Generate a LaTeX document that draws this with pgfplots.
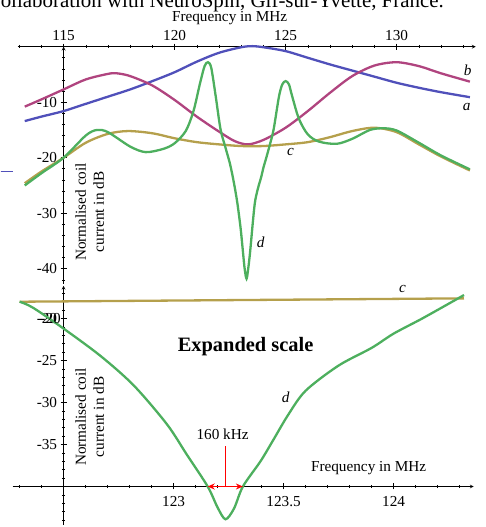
\documentclass[border=0pt]{standalone}
\usepackage{fontspec}
\setmainfont{Liberation Serif}
\usepackage{pgfplots}
\pgfplotsset{compat=1.18}
\usetikzlibrary{arrows.meta}
\definecolor{cA}{HTML}{5050BA}
\definecolor{cB}{HTML}{B0447F}
\definecolor{cC}{HTML}{B5A04C}
\definecolor{cD}{HTML}{4DAF5E}

\pgfplotsset{
  coil/.style={
    scale only axis, clip=false,
    axis line style={-, line width=0.7bp},
    every inner x axis line/.append style={-},
    every outer x axis line/.append style={-},
    every inner y axis line/.append style={-},
    every outer y axis line/.append style={-},
    tick style={black, line width=0.6bp},
    major tick length=6bp, minor tick length=3.5bp,
    tick align=inside,
    hide obscured x ticks=false, hide obscured y ticks=false,
    tick label style={font=\fontsize{15.3}{18}\selectfont},
  },
  crv/.style={line width=2.3bp, no markers, smooth, tension=0.5},
}

\begin{document}
\begin{tikzpicture}[font=\fontsize{15.3}{18}\selectfont]
\begin{scope}[x=1bp, y=1bp]
\useasboundingbox (0,0) rectangle (485,527);
% cropped caption line at the top
\node[anchor=base west, inner sep=0, font=\fontsize{21}{24}\selectfont] at (-14,519.5)
  {Collaboration with NeuroSpin, Gif-sur-Yvette, France.};
\end{scope}

% ---------------- full frequency range ----------------
\begin{axis}[coil,
  at={(63bp,480.3bp)}, anchor=origin, width=458bp, height=237bp,
  axis x line=top, axis y line=middle,
  xmin=-2.07, xmax=18.56, ymin=-42.7, ymax=0,
  x filter/.expression={x-115},
  xtick={0,5,10,15}, xticklabels={115,120,125,130},
  minor xtick={-2,...,18},
  ytick={-40,-30,-20,-10}, yticklabels={-40,-30,-20,-10},
  minor ytick={-42,-40,...,-2},
]
% a
\addplot[crv, cA] coordinates {
 (113.25,-13.4) (114,-12.6) (115,-11.6) (116,-10.3) (117,-9.0) (118,-7.7)
 (119,-6.2) (120,-4.6) (121,-2.7) (122,-1.1) (123,-0.1) (123.5,0.1) (124,-0.1)
 (125,-0.8) (126,-2.0) (127,-3.2) (128,-4.3) (129,-5.4) (130,-6.5) (131,-7.4)
 (132,-8.2) (133.3,-9.1)};
% b
\addplot[crv, cB] coordinates {
 (113.25,-10.8) (114,-9.5) (115,-7.7) (116,-5.9) (117,-4.9) (117.4,-4.8)
 (118,-5.3) (119,-7.0) (120,-9.6) (121,-12.6) (122,-15.3) (122.7,-17.0)
 (123.3,-17.6) (124,-16.8) (125,-14.6) (126,-11.6) (127,-8.3) (128,-5.3)
 (129,-3.4) (130,-2.8) (131,-3.5) (132,-4.8) (133.3,-6.3)};
% c
\addplot[crv, cC] coordinates {
 (113.25,-24.6) (114,-22.5) (115,-20.0) (116,-17.3) (117,-15.7) (117.9,-15.2)
 (119,-15.6) (120,-16.5) (121,-17.2) (122,-17.6) (123,-17.9) (124,-17.9)
 (125,-17.6) (126,-17.2) (127,-16.3) (128,-15.2) (129,-14.6) (130,-15.4)
 (131,-17.6) (132,-19.8) (133.3,-22.3)};
% d
\addplot[crv, cD] coordinates {
 (113.25,-25.0) (114,-22.8) (115,-20.0) (116,-16.0) (116.5,-15.0) (117,-15.4)
 (118,-18.0) (118.7,-19.0) (119.5,-18.4) (120,-17.4) (120.5,-15.2)
 (120.85,-11.6) (121.15,-6.5) (121.35,-3.5) (121.5,-2.8) (121.65,-3.8)
 (121.85,-8.9) (122.07,-14.9) (122.3,-18.3) (122.5,-21.2) (122.67,-24.5)
 (122.82,-28.0) (122.97,-32.6) (123.06,-36.2) (123.155,-40) (123.24,-41.8)
 (123.315,-40) (123.4,-37) (123.6,-28.6) (123.75,-25.6) (123.9,-23.5)
 (124,-21.8) (124.13,-20) (124.28,-17.8) (124.46,-14.9) (124.7,-9.0)
 (124.85,-6.8) (125,-6.2) (125.15,-6.8) (125.3,-9.0) (125.6,-13.0)
 (126,-15.8) (126.5,-17.1) (127.3,-17.5) (128,-16.6) (128.8,-15.0)
 (129.4,-14.7) (130,-15.1) (131,-17.3) (132,-19.6) (133.3,-22.1)};
\end{axis}

% ---------------- expanded scale ----------------
\begin{axis}[coil,
  at={(63bp,40.5bp)}, anchor=origin, width=461.1bp, height=239.2bp,
  axis x line=middle, axis y line=middle,
  xmin=-0.232, xmax=1.864, ymin=-4.58, ymax=23.9,
  x filter/.expression={x-122.5}, y filter/.expression={y+40},
  xtick={0.5,1,1.5}, xticklabels={123,123.5,124},
  xticklabel style={yshift=-3bp},
  minor xtick={-0.2,-0.1,...,1.8},
  ytick={5,10,15,20}, yticklabels={-35,-30,-25,-20},
  minor ytick={-4,...,23},
]
\addplot[crv, cC] coordinates {(122.3,-18.0) (124.32,-17.6)};
\addplot[crv, cD] coordinates {
 (122.3,-18.0) (122.36,-18.7) (122.5,-21.2) (122.67,-24.5) (122.82,-28.0)
 (122.97,-32.6) (123.06,-36.2) (123.155,-40) (123.2,-42.5) (123.236,-43.9)
 (123.275,-42.6) (123.315,-40) (123.395,-37) (123.45,-34.6) (123.52,-31.5)
 (123.6,-28.6) (123.75,-25.6) (123.9,-23.5) (124,-21.8) (124.13,-20)
 (124.28,-17.8) (124.32,-17.2)};
\draw[red, line width=1.5bp] (axis cs:0.736,4.8) -- (axis cs:0.736,0);
\draw[red, line width=1.5bp, {Stealth[length=7bp,width=6bp]}-{Stealth[length=7bp,width=6bp]}]
  (axis cs:0.655,0) -- (axis cs:0.815,0);
\node[anchor=east, inner sep=0] at (axis cs:-0.012,20) {-20};
\end{axis}

\begin{scope}[x=1bp, y=1bp]
\node at (229,508.5) {Frequency in MHz};
\node[font=\fontsize{15.3}{18}\itshape] at (467,457) {b};
\node[font=\fontsize{15.3}{18}\itshape] at (466,420) {a};
\node[font=\fontsize{15.3}{18}\itshape] at (290,375) {c};
\node[font=\fontsize{15.3}{18}\itshape] at (260,285) {d};
\node[rotate=90, align=center, inner sep=0] at (89,315) {Normalised coil\\current in dB};
\node[rotate=90, align=center, inner sep=0] at (89,110) {Normalised coil\\current in dB};
\node[font=\fontsize{20.5}{24}\bfseries] at (245,180) {Expanded scale};
\node[font=\fontsize{15.3}{18}\itshape] at (402,238) {c};
\node[font=\fontsize{15.3}{18}\itshape] at (285,130) {d};
\node at (222,93) {160 kHz};
\node at (368,59) {Frequency in MHz};
% stray marker fragment at the left edge
\draw[red, line width=1.2bp] (0,355.3) -- (12,355.3);
\draw[cA, line width=0.6bp] (0,355.3) -- (12,355.3);
\end{scope}
\end{tikzpicture}
\end{document}
